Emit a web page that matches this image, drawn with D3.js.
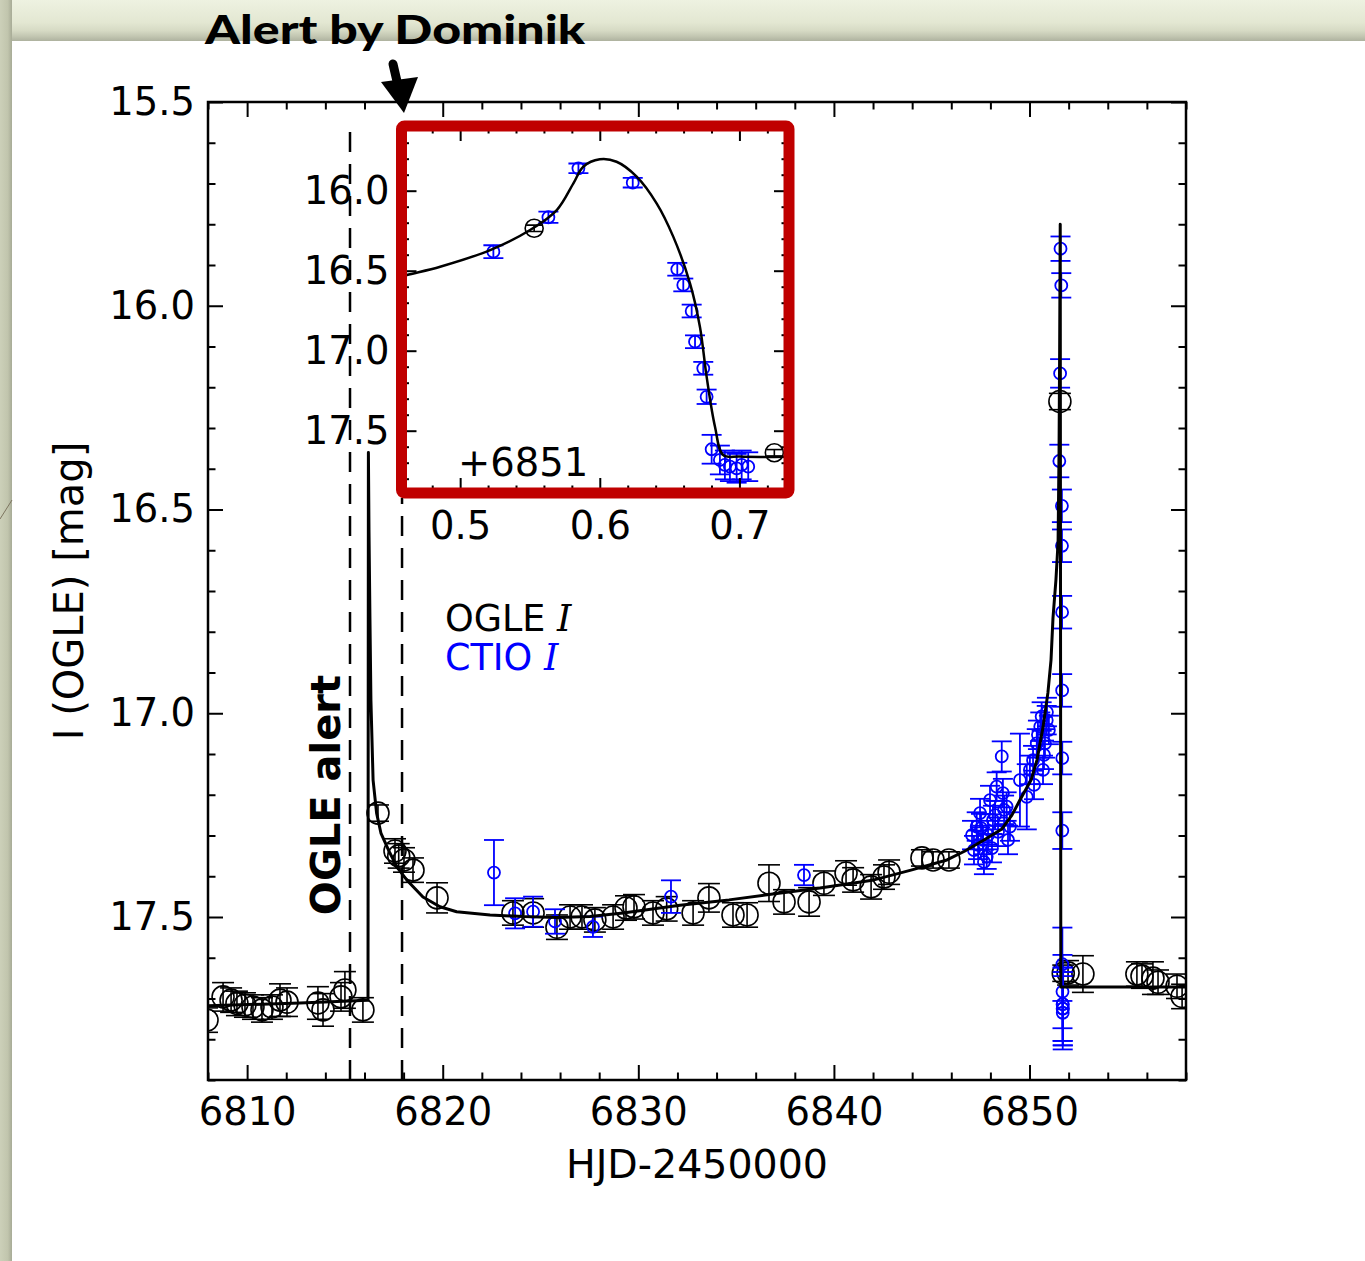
<!DOCTYPE html>
<html>
<head>
<meta charset="utf-8">
<script src="https://cdn.jsdelivr.net/npm/d3@7"></script>
<style>
  body { margin: 0; background: #fff; }
  svg { display: block; }
</style>
</head>
<body>
<div id="chart"></div>
<script>
// 刻度
var xTicks = [6810, 6820, 6830, 6840, 6850]
var yTicks = [15.5, 16.0, 16.5, 17.0, 17.5]
var zoomXTicks = [0.5, 0.6, 0.7]
var zoomYTicks = [16.0, 16.5, 17.0, 17.5]
var zoomOffset = 6851

// OGLE alert / Alert by Dominik
var alertDays = [6815.26, 6817.92]

// [HJD-2450000, I mag, err]
var ogleData = [
  [6807.95, 17.753, 0.03], [6808.77, 17.696, 0.035], [6809.18, 17.704, 0.03],
  [6809.48, 17.712, 0.03], [6809.89, 17.716, 0.03], [6810.30, 17.721, 0.03],
  [6810.76, 17.728, 0.03], [6811.27, 17.721, 0.03], [6811.68, 17.704, 0.04],
  [6812.04, 17.709, 0.035], [6813.62, 17.711, 0.04], [6813.88, 17.728, 0.04],
  [6814.80, 17.696, 0.035], [6815.00, 17.679, 0.045], [6815.92, 17.728, 0.03],
  [6816.69, 17.245, 0.02], [6817.56, 17.338, 0.03], [6817.75, 17.350, 0.03],
  [6818.02, 17.360, 0.03], [6818.48, 17.385, 0.03], [6819.71, 17.453, 0.037],
  [6823.59, 17.490, 0.03], [6824.62, 17.490, 0.035], [6825.84, 17.525, 0.03],
  [6826.51, 17.500, 0.03], [6827.12, 17.500, 0.03], [6827.78, 17.507, 0.03],
  [6828.71, 17.500, 0.03], [6829.37, 17.478, 0.03], [6829.78, 17.475, 0.03],
  [6830.75, 17.490, 0.03], [6831.45, 17.480, 0.03], [6832.80, 17.490, 0.03],
  [6833.61, 17.453, 0.035], [6834.84, 17.495, 0.03], [6835.56, 17.495, 0.03],
  [6836.68, 17.417, 0.045], [6837.45, 17.463, 0.03], [6838.73, 17.463, 0.035],
  [6839.49, 17.417, 0.03], [6840.62, 17.392, 0.03], [6840.98, 17.409, 0.03],
  [6841.90, 17.426, 0.03], [6842.56, 17.402, 0.03], [6842.82, 17.390, 0.03],
  [6844.50, 17.355, 0.02], [6845.07, 17.360, 0.02], [6845.88, 17.360, 0.02],
  [6851.553, 16.235, 0.02], [6851.725, 17.638, 0.02], [6851.97, 17.637, 0.03],
  [6852.73, 17.640, 0.045], [6855.49, 17.640, 0.03], [6855.75, 17.645, 0.03],
  [6856.31, 17.650, 0.04], [6856.57, 17.660, 0.03], [6857.54, 17.670, 0.03],
  [6857.80, 17.695, 0.03]
]

var ctioData = [
  [6822.62, 17.391, 0.08], [6823.70, 17.491, 0.037], [6824.62, 17.487, 0.037],
  [6825.74, 17.511, 0.03], [6827.68, 17.524, 0.025], [6831.67, 17.450, 0.04],
  [6838.47, 17.397, 0.025],
  [6847.06, 17.299, 0.035], [6847.16, 17.336, 0.035], [6847.30, 17.278, 0.035],
  [6847.37, 17.323, 0.035], [6847.47, 17.245, 0.035], [6847.52, 17.282, 0.035],
  [6847.62, 17.311, 0.035], [6847.67, 17.365, 0.03], [6847.81, 17.352, 0.03],
  [6847.88, 17.299, 0.035], [6847.98, 17.213, 0.035], [6848.08, 17.331, 0.035],
  [6848.13, 17.262, 0.035], [6848.24, 17.250, 0.035], [6848.32, 17.180, 0.035],
  [6848.39, 17.291, 0.035], [6848.58, 17.106, 0.037], [6848.64, 17.196, 0.035],
  [6848.70, 17.237, 0.035], [6848.83, 17.229, 0.035], [6848.90, 17.311, 0.035],
  [6849.00, 17.278, 0.035], [6849.51, 17.164, 0.114], [6849.86, 17.205, 0.08],
  [6850.02, 17.139, 0.035], [6850.18, 17.115, 0.035], [6850.23, 17.176, 0.035],
  [6850.37, 17.074, 0.035], [6850.43, 17.053, 0.035], [6850.55, 17.033, 0.035],
  [6850.62, 17.008, 0.035], [6850.69, 17.139, 0.035], [6850.74, 17.102, 0.035],
  [6850.79, 17.074, 0.035], [6850.88, 17.017, 0.035], [6850.89, 16.997, 0.035],
  [6850.99, 17.041, 0.035],
  [6851.5238, 16.381, 0.04], [6851.5632, 16.166, 0.035], [6851.5847, 15.860, 0.03],
  [6851.6236, 15.950, 0.03], [6851.6555, 16.491, 0.04], [6851.6598, 16.589, 0.04],
  [6851.6658, 16.752, 0.04], [6851.6682, 16.944, 0.04], [6851.6741, 17.110, 0.04],
  [6851.6765, 17.288, 0.045], [6851.6801, 17.616, 0.09], [6851.6860, 17.683, 0.09],
  [6851.6896, 17.714, 0.09], [6851.6932, 17.725, 0.09], [6851.6980, 17.735, 0.09],
  [6851.7016, 17.714, 0.09], [6851.7063, 17.725, 0.09]
]

// 模型曲线 [HJD-2450000, I mag]
var modelMain = [
  [6808.00, 17.718], [6812.70, 17.711], [6816.18, 17.704], [6816.20, 16.36],
  [6816.23, 16.55], [6816.28, 16.77], [6816.33, 16.97], [6816.44, 17.164],
  [6816.62, 17.245], [6816.84, 17.294], [6817.30, 17.343], [6817.70, 17.380],
  [6818.16, 17.409], [6818.99, 17.451], [6819.86, 17.475], [6820.71, 17.487],
  [6822.42, 17.495], [6824.10, 17.499], [6825.83, 17.501], [6827.53, 17.499],
  [6829.22, 17.490], [6832.13, 17.471], [6834.64, 17.458], [6836.48, 17.446],
  [6839.29, 17.429], [6842.05, 17.409], [6843.94, 17.385], [6845.78, 17.360],
  [6846.70, 17.338], [6847.67, 17.311], [6848.59, 17.284], [6849.10, 17.250],
  [6849.51, 17.213], [6850.08, 17.164], [6850.38, 17.115], [6850.69, 17.034],
  [6850.94, 16.950], [6851.10, 16.869], [6851.20, 16.766], [6851.35, 16.673],
  [6851.46, 16.580], [6851.51, 16.354], [6851.54, 16.109], [6851.57, 15.80],
  [6851.60, 17.672], [6858.00, 17.672]
]

var modelZoom = [
  [6851.455, 16.545], [6851.4619, 16.527], [6851.4857, 16.475], [6851.5215, 16.371],
  [6851.5501, 16.246], [6851.5692, 16.121], [6851.5811, 15.954], [6851.5882, 15.850],
  [6851.6000, 15.804], [6851.6120, 15.819], [6851.6264, 15.912], [6851.6407, 16.079],
  [6851.6526, 16.287], [6851.6646, 16.579], [6851.6717, 16.850], [6851.6765, 17.162],
  [6851.6825, 17.475], [6851.6884, 17.652], [6851.7004, 17.662], [6851.7400, 17.662]
]

/**
 * 常量
 */
var width = 1365
var height = 1261
var plot = { left: 208, right: 1186, top: 102, bottom: 1080 }
var box = { left: 401.5, right: 789, top: 126, bottom: 493 }
var font = 'DejaVu Sans'

/**
 * 比例尺
 */
var x = d3.scaleLinear().domain([6808, 6858]).range([plot.left, plot.right])
var y = d3.scaleLinear().domain([15.5, 17.9]).range([plot.top, plot.bottom])
var xZoom = d3.scaleLinear().domain([0.458, 0.7355]).range([box.left, box.right])
var yZoom = d3.scaleLinear().domain([15.6, 17.9]).range([126.7, 494.7])

var svg = d3.select('#chart')
  .append('svg')
  .attr('width', width)
  .attr('height', height)

var defs = svg.append('defs')

var topGrad = defs.append('linearGradient').attr('id', 'topGrad')
  .attr('x1', 0).attr('y1', 0).attr('x2', 0).attr('y2', 1)
topGrad.selectAll('stop')
  .data([['0%', '#eef2e1'], ['55%', '#e3e7d2'], ['75%', '#d6dac4'], ['88%', '#c3c7b2'], ['100%', '#aeb29f']])
  .join('stop')
  .attr('offset', d => d[0])
  .attr('stop-color', d => d[1])

var leftGrad = defs.append('linearGradient').attr('id', 'leftGrad')
  .attr('x1', 0).attr('y1', 0).attr('x2', 1).attr('y2', 0)
leftGrad.selectAll('stop')
  .data([['0%', '#ccd0b9'], ['65%', '#c1c5ad'], ['100%', '#a7ab96']])
  .join('stop')
  .attr('offset', d => d[0])
  .attr('stop-color', d => d[1])

defs.append('clipPath').attr('id', 'clipMain')
  .append('rect')
  .attr('x', plot.left).attr('y', plot.top)
  .attr('width', plot.right - plot.left).attr('height', plot.bottom - plot.top)

defs.append('clipPath').attr('id', 'clipZoom')
  .append('rect')
  .attr('x', box.left).attr('y', box.top)
  .attr('width', box.right - box.left).attr('height', box.bottom - box.top)

// 背景 (幻灯片边框)
svg.append('rect').attr('width', width).attr('height', height).attr('fill', '#fff')
svg.append('rect').attr('width', width).attr('height', 41).attr('fill', 'url(#topGrad)')
svg.append('rect').attr('width', 12).attr('height', height).attr('fill', 'url(#leftGrad)')
svg.append('line')
  .attr('x1', 0).attr('y1', 519).attr('x2', 12).attr('y2', 500)
  .attr('stroke', '#7d7560').attr('stroke-width', 1)

/**
 * 坐标轴
 */
function styleAxis(g, size) {
  g.select('.domain').remove()
  g.attr('font-family', font)
  g.selectAll('.tick line').attr('stroke', '#000').attr('stroke-width', 2)
  g.selectAll('.tick text').attr('fill', '#000').attr('font-size', size)
}

function drawAxes(g, xs, ys, xMajor, yMajor, xMinor, yMinor, area, pad) {
  var fmt = d3.format('.1f')
  g.append('g')
    .attr('transform', `translate(0,${area.bottom})`)
    .call(d3.axisBottom(xs).tickValues(xMajor).tickSizeInner(-15).tickSizeOuter(0)
      .tickPadding(pad.x).tickFormat(xs === x ? d3.format('d') : fmt))
    .call(styleAxis, 38.5)
  g.append('g')
    .attr('transform', `translate(0,${area.bottom})`)
    .call(d3.axisBottom(xs).tickValues(xMinor).tickSizeInner(-7.5).tickSizeOuter(0).tickFormat(''))
    .call(styleAxis)
  g.append('g')
    .attr('transform', `translate(0,${area.top})`)
    .call(d3.axisTop(xs).tickValues(xMajor).tickSizeInner(-15).tickSizeOuter(0).tickFormat(''))
    .call(styleAxis)
  g.append('g')
    .attr('transform', `translate(0,${area.top})`)
    .call(d3.axisTop(xs).tickValues(xMinor).tickSizeInner(-7.5).tickSizeOuter(0).tickFormat(''))
    .call(styleAxis)
  g.append('g')
    .attr('transform', `translate(${area.left},0)`)
    .call(d3.axisLeft(ys).tickValues(yMajor).tickSizeInner(-15).tickSizeOuter(0)
      .tickPadding(pad.y).tickFormat(fmt))
    .call(styleAxis, 38.5)
  g.append('g')
    .attr('transform', `translate(${area.left},0)`)
    .call(d3.axisLeft(ys).tickValues(yMinor).tickSizeInner(-7.5).tickSizeOuter(0).tickFormat(''))
    .call(styleAxis)
  g.append('g')
    .attr('transform', `translate(${area.right},0)`)
    .call(d3.axisRight(ys).tickValues(yMajor).tickSizeInner(-15).tickSizeOuter(0).tickFormat(''))
    .call(styleAxis)
  g.append('g')
    .attr('transform', `translate(${area.right},0)`)
    .call(d3.axisRight(ys).tickValues(yMinor).tickSizeInner(-7.5).tickSizeOuter(0).tickFormat(''))
    .call(styleAxis)
}

function notMajor(major) {
  return v => !major.some(m => Math.abs(m - v) < 1e-6)
}

/**
 * 数据点 + 误差棒
 */
function drawPoints(g, data, xs, ys, xOf, color, r, cap, sw) {
  var pts = g.append('g')
    .selectAll('g')
    .data(data)
    .join('g')
    .attr('stroke', color)
    .attr('fill', 'none')
    .attr('stroke-width', sw)
  pts.append('line')
    .attr('x1', d => xs(xOf(d))).attr('x2', d => xs(xOf(d)))
    .attr('y1', d => ys(d[1] - d[2])).attr('y2', d => ys(d[1] + d[2]))
  pts.selectAll('line.cap')
    .data(d => [[xOf(d), d[1] - d[2]], [xOf(d), d[1] + d[2]]])
    .join('line')
    .attr('class', 'cap')
    .attr('x1', d => xs(d[0]) - cap).attr('x2', d => xs(d[0]) + cap)
    .attr('y1', d => ys(d[1])).attr('y2', d => ys(d[1]))
  pts.append('circle')
    .attr('cx', d => xs(xOf(d)))
    .attr('cy', d => ys(d[1]))
    .attr('r', r)
}

// 竖虚线
var dashG = svg.append('g')
dashG.selectAll('line')
  .data(alertDays)
  .join('line')
  .attr('x1', d => x(d)).attr('x2', d => x(d))
  .attr('y1', plot.bottom).attr('y2', plot.top + 22)
  .attr('stroke', '#000')
  .attr('stroke-width', 2.5)
  .attr('stroke-dasharray', '20,12')

/**
 * 主图
 */
var mainData = svg.append('g').attr('clip-path', 'url(#clipMain)')
drawPoints(mainData, ogleData, x, y, d => d[0], '#000', 11, 11, 1.6)
drawPoints(mainData, ctioData, x, y, d => d[0], '#0000ff', 6, 10, 1.8)

// 主图模型曲线: 折线 (点已足够密)
var line = d3.line()
  .x(d => x(d[0]))
  .y(d => y(d[1]))

mainData.append('path')
  .attr('d', line(modelMain))
  .attr('fill', 'none')
  .attr('stroke', '#000')
  .attr('stroke-width', 3)
  .attr('stroke-linejoin', 'round')

var mainAxes = svg.append('g')
drawAxes(mainAxes, x, y, xTicks, yTicks,
  x.ticks(25).filter(notMajor(xTicks)), y.ticks(24).filter(notMajor(yTicks)),
  plot, { x: 18, y: 13 })

svg.append('rect')
  .attr('x', plot.left).attr('y', plot.top)
  .attr('width', plot.right - plot.left).attr('height', plot.bottom - plot.top)
  .attr('fill', 'none')
  .attr('stroke', '#000')
  .attr('stroke-width', 2.5)

// 轴标题
svg.append('text')
  .text('HJD-2450000')
  .attr('x', (plot.left + plot.right) / 2)
  .attr('y', 1178)
  .attr('text-anchor', 'middle')
  .attr('font-family', font)
  .attr('font-size', 39.5)

svg.append('text')
  .text('I (OGLE) [mag]')
  .attr('transform', `translate(83,${(plot.top + plot.bottom) / 2}) rotate(-90)`)
  .attr('text-anchor', 'middle')
  .attr('font-family', font)
  .attr('font-size', 40)

// 图例
var legend = svg.append('g').attr('font-family', font).attr('font-size', 36.5)
legend.selectAll('text')
  .data([['OGLE', '#000', 631], ['CTIO', '#0000ff', 670]])
  .join('text')
  .attr('x', 445)
  .attr('y', d => d[2])
  .attr('fill', d => d[1])
  .text(d => d[0] + ' ')
  .append('tspan')
  .attr('font-family', 'DejaVu Serif')
  .attr('font-style', 'italic')
  .text('I')

svg.append('text')
  .text('OGLE alert')
  .attr('transform', 'translate(340,795) rotate(-90)')
  .attr('text-anchor', 'middle')
  .attr('font-family', font)
  .attr('font-weight', 'bold')
  .attr('font-size', 40)

/**
 * 放大图
 */
var inset = svg.append('g')
inset.append('rect')
  .attr('x', 396).attr('y', 120)
  .attr('width', 399).attr('height', 378)
  .attr('fill', '#fff')

var zoomData = inset.append('g').attr('clip-path', 'url(#clipZoom)')
var inWindow = d => d[0] > zoomOffset + 0.4 && d[0] < zoomOffset + 0.8
drawPoints(zoomData, ogleData.filter(inWindow), xZoom, yZoom, d => d[0] - zoomOffset, '#000', 9, 8, 1.6)
drawPoints(zoomData, ctioData.filter(inWindow), xZoom, yZoom, d => d[0] - zoomOffset, '#0000ff', 6, 10, 1.8)

var zoomLine = d3.line()
  .x(d => xZoom(d[0] - zoomOffset))
  .y(d => yZoom(d[1]))
  .curve(d3.curveCatmullRom.alpha(0.5))

zoomData.append('path')
  .attr('d', zoomLine(modelZoom))
  .attr('fill', 'none')
  .attr('stroke', '#000')
  .attr('stroke-width', 2.5)

var zoomAxes = inset.append('g')
drawAxes(zoomAxes, xZoom, yZoom, zoomXTicks, zoomYTicks,
  xZoom.ticks(14).filter(notMajor(zoomXTicks)), yZoom.ticks(23).filter(notMajor(zoomYTicks)),
  box, { x: 19, y: 12 })

inset.append('text')
  .text('+' + zoomOffset)
  .attr('x', 458)
  .attr('y', 476)
  .attr('font-family', font)
  .attr('font-size', 38.5)

inset.append('rect')
  .attr('x', box.left).attr('y', box.top)
  .attr('width', box.right - box.left).attr('height', box.bottom - box.top)
  .attr('rx', 3)
  .attr('fill', 'none')
  .attr('stroke', '#c00000')
  .attr('stroke-width', 11)

/**
 * 标注
 */
svg.append('text')
  .text('Alert by Dominik')
  .attr('x', 205)
  .attr('y', 44)
  .attr('textLength', 380)
  .attr('lengthAdjust', 'spacingAndGlyphs')
  .attr('font-family', 'Lato')
  .attr('font-weight', 900)
  .attr('font-size', 40)

svg.append('line')
  .attr('x1', 393).attr('y1', 64)
  .attr('x2', 399).attr('y2', 90)
  .attr('stroke', '#000')
  .attr('stroke-width', 9)
  .attr('stroke-linecap', 'round')

svg.append('path')
  .attr('d', d3.line()([[381, 82], [418, 77], [404, 113]]) + 'Z')
  .attr('fill', '#000')
</script>
</body>
</html>
